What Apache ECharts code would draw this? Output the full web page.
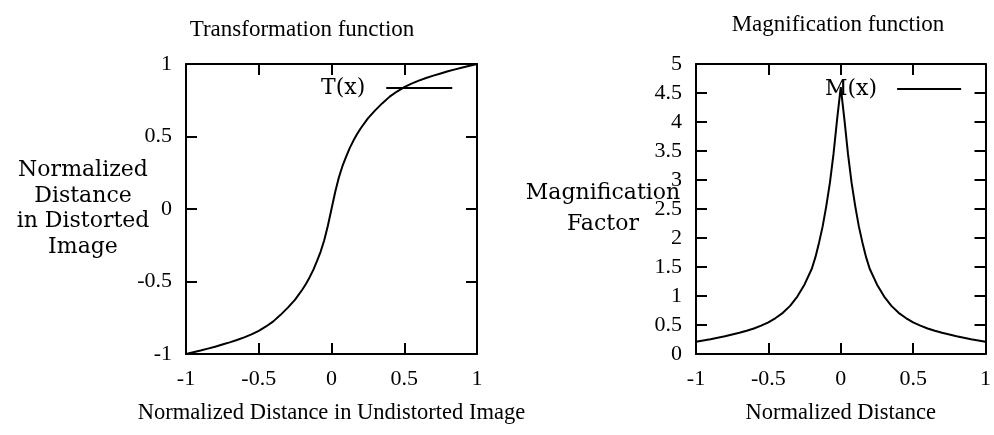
<!DOCTYPE html>
<html>
<head>
<meta charset="utf-8">
<script src="https://cdn.jsdelivr.net/npm/echarts@6/dist/echarts.min.js"></script>
<style>
  html, body { margin: 0; padding: 0; background: #fff; }
  #chart { width: 994px; height: 435px; }
</style>
</head>
<body>
<div id="chart"></div>
<script>
// sample positions along the normalized distance axis (denser near the centre)
const xs = [
  -1, -0.95, -0.9, -0.85, -0.8, -0.75, -0.7, -0.65, -0.6, -0.55, -0.5, -0.45, -0.4, -0.35, -0.3, -0.25, -0.2,
  -0.175, -0.15, -0.125, -0.1, -0.075, -0.05, -0.025, 0, 0.025, 0.05, 0.075, 0.1, 0.125, 0.15, 0.175,
  0.2, 0.25, 0.3, 0.35, 0.4, 0.45, 0.5, 0.55, 0.6, 0.65, 0.7, 0.75, 0.8, 0.85, 0.9, 0.95, 1
]

// T(x)
const tValues = [
  -1, -0.988, -0.976, -0.963, -0.95, -0.935, -0.92, -0.903, -0.885, -0.865, -0.84, -0.81, -0.775, -0.73, -0.68, -0.625, -0.555,
  -0.515, -0.47, -0.42, -0.36, -0.295, -0.215, -0.115, 0, 0.115, 0.215, 0.295, 0.36, 0.42, 0.47, 0.515,
  0.555, 0.625, 0.68, 0.73, 0.775, 0.81, 0.84, 0.865, 0.885, 0.903, 0.92, 0.935, 0.95, 0.963, 0.976, 0.988, 1
]

// M(x)
const mValues = [
  0.21, 0.233, 0.255, 0.28, 0.305, 0.335, 0.365, 0.4, 0.44, 0.49, 0.545, 0.62, 0.71, 0.83, 0.99, 1.2, 1.47,
  1.67, 1.92, 2.2, 2.55, 2.95, 3.45, 4.05, 4.6, 4.05, 3.45, 2.95, 2.55, 2.2, 1.92, 1.67,
  1.47, 1.2, 0.99, 0.83, 0.71, 0.62, 0.545, 0.49, 0.44, 0.4, 0.365, 0.335, 0.305, 0.28, 0.255, 0.233, 0.21
]

const FONT = 'Liberation Serif'
const WIDE_FONT = 'DejaVu Serif'
const INK = '#000'

const chart = echarts.init(document.getElementById('chart'))

// gnuplot style box: axis lines on all four sides, ticks pointing inward
function boxAxis(gridIndex, position, min, max, interval, labels, extra) {
  return Object.assign({
    type: 'value',
    gridIndex: gridIndex,
    position: position,
    min: min,
    max: max,
    interval: interval,
    nameMoveOverlap: false,
    axisLine: { show: true, onZero: false, lineStyle: { color: INK, width: 2 } },
    axisTick: { show: true, inside: true, length: 11, lineStyle: { color: INK, width: 2 } },
    splitLine: { show: false },
    axisLabel: {
      show: labels,
      color: INK,
      fontFamily: FONT,
      fontSize: 22,
      margin: 14
    }
  }, extra || {})
}

chart.setOption({
  animation: false,
  backgroundColor: '#fff',
  title: [
    {
      text: 'Transformation function',
      left: 297, top: 13, textAlign: 'center',
      textStyle: { fontFamily: FONT, fontSize: 23, fontWeight: 'normal', color: INK }
    },
    {
      text: 'Magnification function',
      left: 833, top: 8, textAlign: 'center',
      textStyle: { fontFamily: FONT, fontSize: 23, fontWeight: 'normal', color: INK }
    }
  ],
  legend: [
    {
      data: ['T(x)'], left: 321, top: 77, padding: 0, align: 'right',
      icon: 'rect', itemWidth: 66, itemHeight: 2,
      textStyle: { fontFamily: WIDE_FONT, fontSize: 22, color: INK, padding: [0, 16, 0, 0] }
    },
    {
      data: ['M(x)'], left: 825, top: 78, padding: 0, align: 'right',
      icon: 'rect', itemWidth: 64, itemHeight: 2,
      textStyle: { fontFamily: WIDE_FONT, fontSize: 22, color: INK, padding: [0, 15, 0, 0] }
    }
  ],
  grid: [
    { left: 186, top: 64, width: 291, height: 290 },
    { left: 696, top: 64, width: 290, height: 290 }
  ],
  xAxis: [
    boxAxis(0, 'bottom', -1, 1, 0.5, true, {
      name: 'Normalized Distance in Undistorted Image',
      nameLocation: 'middle', nameGap: 48,
      nameTextStyle: { fontFamily: FONT, fontSize: 22.5, color: INK }
    }),
    boxAxis(0, 'top', -1, 1, 0.5, false),
    boxAxis(1, 'bottom', -1, 1, 0.5, true, {
      name: 'Normalized Distance',
      nameLocation: 'middle', nameGap: 48,
      nameTextStyle: { fontFamily: FONT, fontSize: 22.5, color: INK }
    }),
    boxAxis(1, 'top', -1, 1, 0.5, false)
  ],
  yAxis: [
    boxAxis(0, 'left', -1, 1, 0.5, true, {
      name: 'Normalized\nDistance\nin Distorted\nImage',
      nameLocation: 'middle', nameRotate: 0, nameGap: 103,
      nameTextStyle: {
        fontFamily: WIDE_FONT, fontSize: 22, color: INK,
        align: 'center', verticalAlign: 'middle', lineHeight: 25.5,
        padding: [0, 0, 4, 0]
      }
    }),
    boxAxis(0, 'right', -1, 1, 0.5, false),
    boxAxis(1, 'left', 0, 5, 0.5, true, {
      name: 'Magnification\nFactor',
      nameLocation: 'middle', nameRotate: 0, nameGap: 93,
      nameTextStyle: {
        fontFamily: WIDE_FONT, fontSize: 22, color: INK,
        align: 'center', verticalAlign: 'middle', lineHeight: 31
      }
    }),
    boxAxis(1, 'right', 0, 5, 0.5, false)
  ],
  series: [
    {
      name: 'T(x)',
      type: 'line',
      xAxisIndex: 0, yAxisIndex: 0,
      data: xs.map((x, i) => [x, tValues[i]]),
      symbol: 'none',
      itemStyle: { color: INK },
      lineStyle: { color: INK, width: 2 }
    },
    {
      name: 'M(x)',
      type: 'line',
      xAxisIndex: 2, yAxisIndex: 2,
      data: xs.map((x, i) => [x, mValues[i]]),
      symbol: 'none',
      itemStyle: { color: INK },
      lineStyle: { color: INK, width: 2 }
    }
  ]
})
</script>
</body>
</html>
